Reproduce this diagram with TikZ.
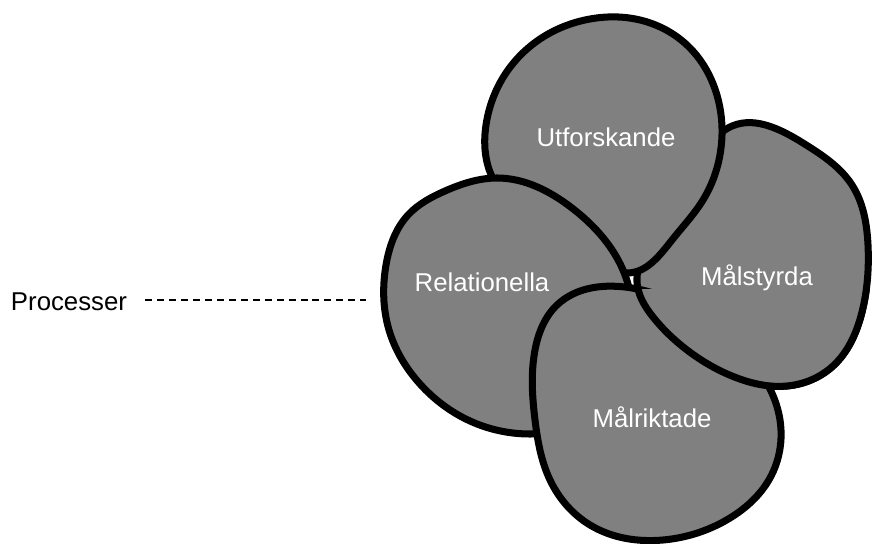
\documentclass[tikz,border=0pt]{standalone}
\usepackage{fontspec}
\setmainfont{Liberation Sans}
\usepackage{tikz}
\usetikzlibrary{positioning, hobby}

\begin{document}
\begin{tikzpicture}[
    x=0.03cm, y=-0.03cm,
    blob/.style={fill=black!50, draw=black, line width=6pt, line join=round},
    lbl/.style={text=white, font=\fontsize{22}{26}\selectfont},
    side/.style={font=\fontsize{22}{26}\selectfont},
    dsh/.style={line width=1.4pt, dash pattern=on 6pt off 4.2pt},
]
\useasboundingbox (0,0) rectangle (873,544);

% Maalstyrda (lower layer)
\filldraw[blob] plot[closed hobby] coordinates {(728,128) (803,143) (852,185) (868,245) (862,312) (833,366) (787,386) (737,378) (687,350) (653,317) (637,282) (665,225) (700,165)};
% Utforskande
\filldraw[blob] plot[closed hobby] coordinates {(627,273) (672,240) (703,200) (721,148) (716,92) (688,46) (640,20) (590,19) (540,39) (504,76) (486,125) (490,172) (540,225) (590,255)};
% Relationella
\filldraw[blob] plot[closed hobby] coordinates {(497,178) (572,208) (625,275) (632,340) (600,410) (530,434) (470,421) (420,384) (389,330) (386,265) (408,215) (445,191)};
% Malriktade
\filldraw[blob] plot[closed hobby] coordinates {(632,288) (557,305) (535,350) (535,420) (550,480) (590,525) (663,540) (730,518) (770,478) (780,420) (768,385) (720,330) (672,300)};
% Maalstyrda again on top of Malriktade
\begin{scope}
  \clip (630,290) rectangle (873,544);
  \filldraw[blob] plot[closed hobby] coordinates {(728,128) (803,143) (852,185) (868,245) (862,312) (833,366) (787,386) (737,378) (687,350) (653,317) (637,282) (665,225) (700,165)};
\end{scope}

\node[lbl] (utf) at (606,137) {Utforskande};
\node[lbl] (rel) at (482,282) {Relationella};
\node[lbl] (mst) at (757,278) {Målstyrda};
\node[lbl] (mri) at (652,417) {Målriktade};

\node[side] (proc) at (69,302) {Processer};
\coordinate (procend) at (366,300);
\draw[dsh] (proc.east) ++(14,-2) coordinate (procstart) -- (procend);

\end{tikzpicture}
\end{document}
